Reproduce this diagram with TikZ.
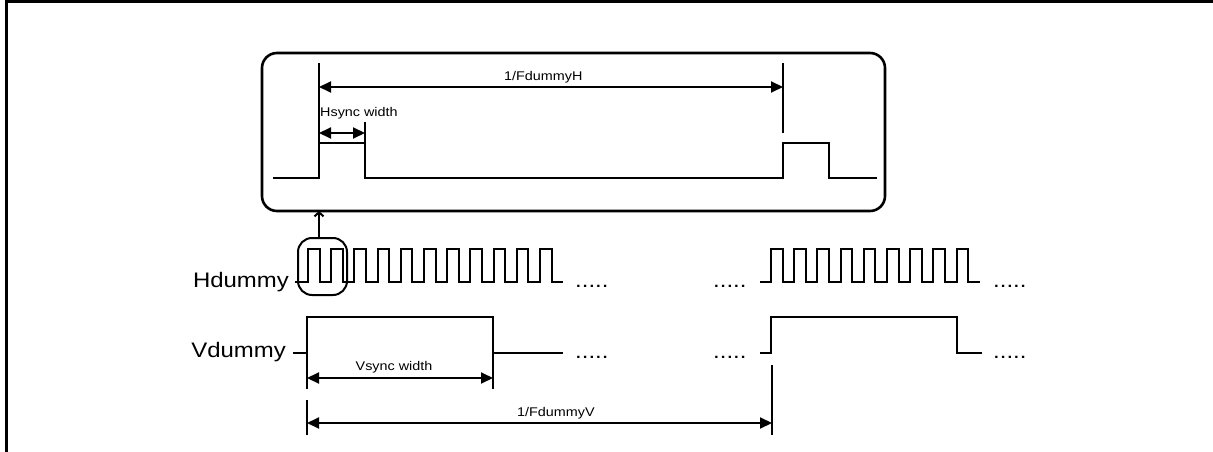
\documentclass[tikz,border=0pt]{standalone}
\usepackage{fontspec}
\setmainfont{Liberation Sans}[FakeStretch=1.14]
\usetikzlibrary{arrows.meta}
\newcommand{\sigfont}{\fontsize{21}{24}\selectfont}
\newcommand{\dimfont}{\fontsize{12.6}{14}\selectfont}
\tikzset{
    wave/.style={line width=2pt, line join=miter},
    tickline/.style={line width=2pt},
    span/.style={line width=2pt, {Triangle[length=12pt,width=11pt]}-{Triangle[length=12pt,width=11pt]}},
    signame/.style={font=\sigfont, inner sep=0pt},
    dimlabel/.style={font=\dimfont, inner sep=0pt}
}
\begin{document}
\begin{tikzpicture}[x=1pt, y=-1pt]
    \useasboundingbox (0,0) rectangle (1213,452);
    % frame
    \draw[line width=3pt] (6,452) -- (6,1.5) -- (1213,1.5);
    % zoomed hsync
    \draw[line width=2.6pt, rounded corners=15pt] (262,53) rectangle (885,211);
    \draw[wave] (273,178) -- (319,178) -- (319,143) -- (365,143) -- (365,178)
        -- (783,178) -- (783,143) -- (829,143) -- (829,178) -- (877,178);
    \draw[tickline] (319,63) -- (319,143);
    \draw[tickline] (783,63) -- (783,133);
    \draw[tickline] (365,122) -- (365,143);
    \coordinate (hl) at (319,87);
    \coordinate (hr) at (783,87);
    \coordinate (wl) at (319,133);
    \coordinate (wr) at (365,133);
    \draw[span] (hl) -- (hr);
    \draw[span] (wl) -- (wr);
    \node[dimlabel, anchor=base west] (fh) at (504,81) {1/FdummyH};
    \node[dimlabel, anchor=base west] (hw) at (320,117) {Hsync width};
    % signals
    \node[signame, anchor=base east] (hname) at (289,287) {Hdummy};
    \node[signame, anchor=base east] (vname) at (286,357) {Vdummy};
    \draw[wave] (295,282) -- ++(13,0) \foreach \k in {1,...,11}{
        -- ++(0,-33) -- ++(11.6,0) -- ++(0,33) -- ++(11.6,0)};
    \draw[wave] (760,282) -- ++(11,0) \foreach \k in {1,...,9}{
        -- ++(0,-33) -- ++(11.6,0) -- ++(0,33) -- ++(11.6,0)};
    \draw[wave] (293,353) -- (307,353) -- (307,317) -- (493,317) -- (493,353) -- (563,353);
    \draw[wave] (760,353) -- (771,353) -- (771,317) -- (957,317) -- (957,353) -- (982,353);
    \node[signame, anchor=base west] (hd1) at (575,287) {.....};
    \node[signame, anchor=base west] (hd2) at (713,287) {.....};
    \node[signame, anchor=base west] (hd3) at (993,287) {.....};
    \node[signame, anchor=base west] (vd1) at (575,358.5) {.....};
    \node[signame, anchor=base west] (vd2) at (713,358.5) {.....};
    \node[signame, anchor=base west] (vd3) at (993,358.5) {.....};
    % pick-out
    \node[draw, line width=2pt, rounded corners=14pt, minimum width=49pt,
        minimum height=57pt, inner sep=0pt] (pick) at (322.5,266.5) {};
    \coordinate (box) at (319,211);
    \draw[line width=2pt, -{Straight Barb[length=4pt,width=9pt]}] (319,237) -- (box);
    % vsync width and period
    \draw[tickline] (307,353) -- (307,389);
    \draw[tickline] (493,353) -- (493,389);
    \draw[tickline] (307,400) -- (307,435);
    \draw[tickline] (772,365) -- (772,435);
    \coordinate (vl) at (307,378);
    \coordinate (vr) at (493,378);
    \coordinate (pl) at (307,423);
    \coordinate (pr) at (772,423);
    \draw[span] (vl) -- (vr);
    \draw[span] (pl) -- (pr);
    \node[dimlabel, anchor=base] (vw) at (394,370) {Vsync width};
    \node[dimlabel, anchor=base west] (fv) at (517,416) {1/FdummyV};
\end{tikzpicture}
\end{document}
